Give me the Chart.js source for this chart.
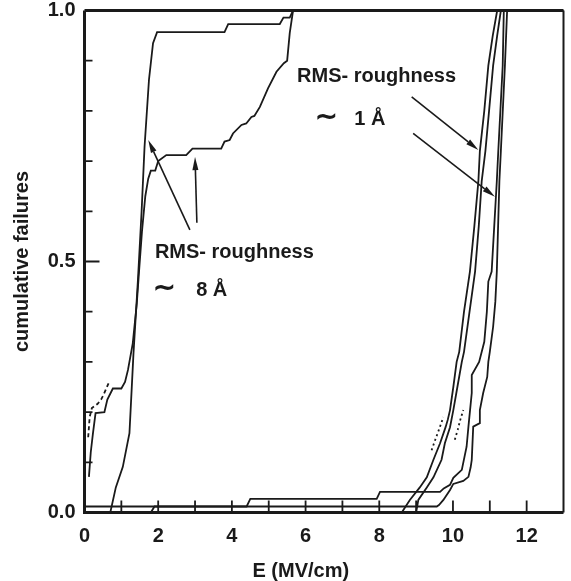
<!DOCTYPE html>
<html>
<head>
<meta charset="utf-8">
<script src="https://cdn.jsdelivr.net/npm/chart.js@4.4.0/dist/chart.umd.min.js"></script>
<style>
  html, body { margin: 0; padding: 0; background: #fff; }
  canvas { display: block; }
</style>
</head>
<body>
<canvas id="grafico" width="571" height="581"></canvas>
<script>
// ticks dos eixos
const xTickLabels = [0, 2, 4, 6, 8, 10, 12]
const xTickMarks = [1, 2, 3, 4, 5, 6, 7, 8, 9, 10, 11, 12]
const yTickLabels = [0, 0.5, 1.0]
const yTickMarks = [0.1, 0.2, 0.3, 0.4, 0.5, 0.6, 0.7, 0.8, 0.9]

// RMS ~ 8 A (campo baixo)
const rugA_E = [0, 0.70, 0.85, 1.04, 1.22, 1.33, 1.45, 1.55, 1.63, 1.75, 1.86, 1.97, 3.80, 3.90, 5.30, 5.40, 5.57, 5.66, 13]
const rugA_F = [0, 0, 0.05, 0.091, 0.158, 0.318, 0.463, 0.60, 0.729, 0.862, 0.935, 0.957, 0.957, 0.973, 0.973, 0.986, 0.986, 1.0, 1.0]

const rugB_E = [0.12, 0.17, 0.23, 0.30, 0.54, 0.62, 0.77, 1.0, 1.10, 1.18, 1.31, 1.42, 1.49, 1.56, 1.65, 1.73, 1.80, 1.92, 2.0, 2.22, 2.76, 2.93, 3.71, 3.80, 3.94, 4.03, 4.26, 4.39, 4.53, 4.61, 4.76, 4.98, 5.21, 5.41, 5.50, 5.57, 5.66, 13]
const rugB_F = [0.071, 0.12, 0.158, 0.198, 0.20, 0.225, 0.247, 0.247, 0.26, 0.284, 0.337, 0.417, 0.49, 0.56, 0.63, 0.665, 0.681, 0.681, 0.70, 0.712, 0.712, 0.725, 0.725, 0.739, 0.742, 0.755, 0.772, 0.775, 0.788, 0.79, 0.808, 0.845, 0.878, 0.895, 0.90, 0.955, 1.0, 1.0]

// tracejada
const rugBt_E = [0.10, 0.14, 0.20, 0.35, 0.45, 0.52, 0.68]
const rugBt_F = [0.15, 0.19, 0.208, 0.216, 0.225, 0.235, 0.262]

// RMS ~ 1 A (campo alto)
const lisoA_E = [8.61, 8.83, 9.10, 9.29, 9.47, 9.65, 9.80, 9.86, 9.92, 10.01, 10.10, 10.17, 10.30, 10.46, 10.58, 10.69, 10.73, 10.85, 10.96, 11.08, 11.20, 13]
const lisoA_F = [0, 0.025, 0.05, 0.07, 0.105, 0.138, 0.17, 0.185, 0.204, 0.25, 0.30, 0.32, 0.40, 0.48, 0.57, 0.66, 0.72, 0.80, 0.89, 0.95, 1.0, 1.0]

const lisoB_E = [9.00, 9.06, 9.29, 9.47, 9.69, 9.78, 9.92, 10.01, 10.12, 10.24, 10.30, 10.45, 10.60, 10.70, 10.78, 10.88, 10.98, 11.09, 11.20, 11.30, 13]
const lisoB_F = [0, 0.025, 0.05, 0.07, 0.105, 0.138, 0.17, 0.204, 0.25, 0.30, 0.32, 0.40, 0.48, 0.57, 0.66, 0.72, 0.80, 0.89, 0.95, 1.0, 1.0]

const lisoC_E = [0, 1.80, 1.90, 4.40, 4.50, 7.93, 8.02, 9.65, 9.75, 9.92, 10.01, 10.24, 10.37, 10.42, 10.51, 10.51, 10.71, 10.85, 10.92, 10.96, 11.05, 11.12, 11.19, 11.23, 11.35, 11.38, 13]
const lisoC_F = [0, 0, 0.012, 0.012, 0.027, 0.027, 0.041, 0.041, 0.048, 0.055, 0.069, 0.085, 0.131, 0.171, 0.238, 0.274, 0.30, 0.34, 0.40, 0.46, 0.48, 0.57, 0.66, 0.72, 0.89, 1.0, 1.0]

const lisoD_E = [0, 9.56, 9.62, 9.74, 9.92, 10.01, 10.28, 10.42, 10.48, 10.51, 10.55, 10.73, 10.73, 10.82, 10.93, 10.96, 11.0, 11.09, 11.15, 11.19, 11.26, 11.30, 11.41, 11.47, 13]
const lisoD_F = [0.012, 0.012, 0.015, 0.025, 0.045, 0.057, 0.063, 0.071, 0.09, 0.105, 0.171, 0.178, 0.204, 0.238, 0.27, 0.30, 0.32, 0.37, 0.42, 0.48, 0.66, 0.72, 0.89, 1.0, 1.0]

// pontilhadas
const lisoPt1_E = [9.42, 9.52, 9.62, 9.74]
const lisoPt1_F = [0.124, 0.145, 0.165, 0.19]
const lisoPt2_E = [10.05, 10.13, 10.20, 10.28]
const lisoPt2_F = [0.145, 0.165, 0.185, 0.204]

// textos e setas (coordenadas em E, F)
const notas = [
    { texto: 'RMS- roughness', E: 1.91, F: 0.507 },
    { texto: '\u223C', E: 1.86, F: 0.431, tam: 27 },
    { texto: '8 Å', E: 3.03, F: 0.431 },
    { texto: 'RMS- roughness', E: 5.77, F: 0.858 },
    { texto: '\u223C', E: 6.26, F: 0.772, tam: 27 },
    { texto: '1 Å', E: 7.32, F: 0.772 }
]
const setas = [
    { de: [2.86, 0.563], para: [1.73, 0.742] },
    { de: [3.05, 0.577], para: [3.00, 0.708] },
    { de: [8.88, 0.828], para: [10.69, 0.722] },
    { de: [8.92, 0.755], para: [11.14, 0.629] }
]
const tituloX = { texto: 'E (MV/cm)', E: 5.87 }

const tinta = '#1a1a1a'
const fonte = '"Liberation Sans", Arial, Helvetica, sans-serif'

function pontos(es, fs) {
    return es.map((e, i) => ({ x: e, y: fs[i] }))
}

function serie(nome, es, fs, tracejado) {
    return {
        label: nome,
        data: pontos(es, fs),
        borderColor: tinta,
        borderWidth: 1.8,
        borderDash: tracejado || [],
        pointRadius: 0,
        showLine: true,
        fill: false,
        tension: 0
    }
}

// moldura, ticks internos, anotações
const decoracao = {
    id: 'decoracao',
    afterDatasetsDraw(chart) {
        const { ctx, chartArea: a, scales: { x, y } } = chart
        ctx.save()
        ctx.strokeStyle = tinta
        ctx.fillStyle = tinta
        ctx.lineCap = 'butt'

        ctx.lineWidth = 1.8
        ctx.beginPath()
        xTickMarks.forEach(v => {
            const px = x.getPixelForValue(v)
            ctx.moveTo(px, a.bottom)
            ctx.lineTo(px, a.bottom - 12)
        })
        yTickMarks.forEach(v => {
            const py = y.getPixelForValue(v)
            ctx.moveTo(a.left, py)
            ctx.lineTo(a.left + (v === 0.5 ? 15 : 8), py)
        })
        ctx.stroke()

        ctx.lineWidth = 3
        ctx.beginPath()
        ctx.moveTo(a.left, a.top)
        ctx.lineTo(a.left, a.bottom)
        ctx.lineTo(a.right, a.bottom)
        ctx.moveTo(a.left, a.top)
        ctx.lineTo(a.right, a.top)
        ctx.stroke()
        ctx.lineWidth = 2
        ctx.beginPath()
        ctx.moveTo(a.right, a.top)
        ctx.lineTo(a.right, a.bottom)
        ctx.stroke()

        ctx.textBaseline = 'alphabetic'
        ctx.textAlign = 'left'
        notas.forEach(n => {
            ctx.font = 'bold ' + (n.tam || 20) + 'px ' + fonte
            ctx.fillText(n.texto, x.getPixelForValue(n.E), y.getPixelForValue(n.F))
        })

        setas.forEach(s => {
            const x0 = x.getPixelForValue(s.de[0]), y0 = y.getPixelForValue(s.de[1])
            const x1 = x.getPixelForValue(s.para[0]), y1 = y.getPixelForValue(s.para[1])
            const ang = Math.atan2(y1 - y0, x1 - x0)
            const comp = 13, larg = 3
            const bx = x1 - comp * Math.cos(ang), by = y1 - comp * Math.sin(ang)
            ctx.lineWidth = 1.6
            ctx.beginPath()
            ctx.moveTo(x0, y0)
            ctx.lineTo(bx, by)
            ctx.stroke()
            ctx.beginPath()
            ctx.moveTo(x1, y1)
            ctx.lineTo(bx + larg * Math.sin(ang), by - larg * Math.cos(ang))
            ctx.lineTo(bx - larg * Math.sin(ang), by + larg * Math.cos(ang))
            ctx.closePath()
            ctx.fill()
        })

        ctx.font = 'bold 20px ' + fonte
        ctx.textAlign = 'center'
        ctx.fillText(tituloX.texto, x.getPixelForValue(tituloX.E), 576.5)
        ctx.restore()
    }
}

new Chart(document.getElementById('grafico'), {
    type: 'scatter',
    data: {
        datasets: [
            serie('8A-1', rugA_E, rugA_F),
            serie('8A-2', rugB_E, rugB_F),
            serie('8A-2 tracejada', rugBt_E, rugBt_F, [4, 3]),
            serie('1A-1', lisoA_E, lisoA_F),
            serie('1A-2', lisoB_E, lisoB_F),
            serie('1A-3', lisoC_E, lisoC_F),
            serie('1A-4', lisoD_E, lisoD_F),
            serie('1A pontilhada 1', lisoPt1_E, lisoPt1_F, [2, 3]),
            serie('1A pontilhada 2', lisoPt2_E, lisoPt2_F, [2, 3])
        ]
    },
    options: {
        responsive: false,
        animation: false,
        devicePixelRatio: 1,
        layout: { padding: { top: 10.5, right: 7.5, left: 0, bottom: 0 } },
        plugins: {
            legend: { display: false },
            tooltip: { enabled: false }
        },
        scales: {
            x: {
                type: 'linear',
                min: 0,
                max: 13,
                grid: { display: false, drawTicks: false },
                border: { display: false },
                ticks: {
                    padding: 12,
                    color: tinta,
                    autoSkip: false,
                    maxRotation: 0,
                    font: { family: fonte, size: 20, weight: 'bold' },
                    callback: v => String(v)
                },
                afterBuildTicks: s => { s.ticks = xTickLabels.map(v => ({ value: v })) },
                afterFit: s => {
                    s.height = 68.5
                    s.paddingLeft = 0
                    s.paddingRight = 0
                }
            },
            y: {
                type: 'linear',
                min: 0,
                max: 1,
                grid: { display: false, drawTicks: false },
                border: { display: false },
                ticks: {
                    padding: 9,
                    color: tinta,
                    font: { family: fonte, size: 20, weight: 'bold' },
                    callback: v => v.toFixed(1)
                },
                afterBuildTicks: s => { s.ticks = yTickLabels.map(v => ({ value: v })) },
                afterFit: s => {
                    s.width = 84.5
                    s.paddingTop = 0
                    s.paddingBottom = 0
                },
                title: {
                    display: true,
                    text: 'cumulative failures',
                    color: tinta,
                    font: { family: fonte, size: 20, weight: 'bold' },
                    padding: { top: 10, bottom: 0 }
                }
            }
        }
    },
    plugins: [decoracao]
})
</script>
</body>
</html>
